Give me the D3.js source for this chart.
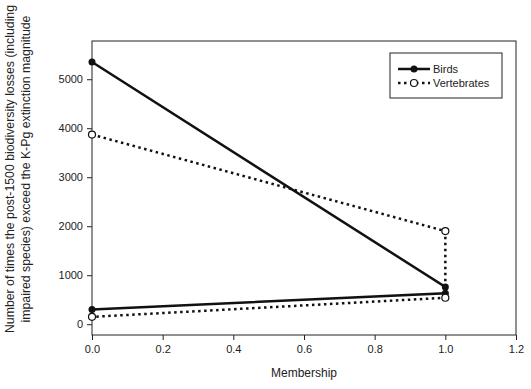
<!DOCTYPE html>
<html>
<head>
<meta charset="utf-8">
<script src="https://cdn.jsdelivr.net/npm/d3@7"></script>
<style>
  body { margin: 0; background: #fff; }
  text { font-family: "Liberation Sans", Arial, sans-serif; fill: #222; }
</style>
</head>
<body>
<svg id="chart" width="531" height="389"></svg>
<script>
// values
const xTicks = [0, 0.2, 0.4, 0.6, 0.8, 1.0, 1.2];
const yTicks = [0, 1000, 2000, 3000, 4000, 5000];
const birdsX = [0, 1, 1, 0];
const birdsY = [5350, 760, 630, 300];
const vertX = [0, 1, 1, 0];
const vertY = [3870, 1900, 540, 150];

const svg = d3.select('#chart');
const plotLeft = 92, plotRight = 516, plotTop = 41, plotBottom = 335;

const x = d3.scaleLinear().domain([0, 1.2]).range([plotLeft, plotRight]);
const y = d3.scaleLinear().domain([-220, 5780]).range([plotBottom, plotTop]);

// frame
svg.append('rect')
    .attr('x', plotLeft).attr('y', plotTop)
    .attr('width', plotRight - plotLeft).attr('height', plotBottom - plotTop)
    .attr('fill', 'none').attr('stroke', '#222').attr('stroke-width', 1);

const xAxis = svg.append('g')
    .attr('transform', `translate(0,${plotBottom})`)
    .call(d3.axisBottom(x).tickValues(xTicks).tickFormat(d3.format('.1f')).tickSize(5).tickPadding(5));
const yAxis = svg.append('g')
    .attr('transform', `translate(${plotLeft},0)`)
    .call(d3.axisLeft(y).tickValues(yTicks).tickFormat(d3.format('d')).tickSize(5).tickPadding(4));
[xAxis, yAxis].forEach((g) => {
    g.select('.domain').remove();
    g.selectAll('line').attr('stroke', '#222');
    g.selectAll('text').style('font-size', '11px').attr('fill', '#222');
});

svg.append('text')
    .attr('x', (plotLeft + plotRight) / 2).attr('y', 377)
    .attr('text-anchor', 'middle')
    .style('font-size', '12px')
    .text('Membership');

const yLab = svg.append('text')
    .attr('transform', `translate(0,169) rotate(-90)`)
    .attr('text-anchor', 'middle')
    .style('font-size', '12.3px');
yLab.append('tspan').attr('x', 0).attr('y', 14)
    .text('Number of times the post-1500 biodiversity losses (including');
yLab.append('tspan').attr('x', 0).attr('y', 30)
    .text('impaired species) exceed the K-Pg extinction magnitude');

const line = d3.line().x((d) => x(d[0])).y((d) => y(d[1]));
const birds = birdsX.map((v, i) => [v, birdsY[i]]);
const verts = vertX.map((v, i) => [v, vertY[i]]);

svg.append('path')
    .attr('d', line(verts))
    .attr('fill', 'none').attr('stroke', '#111')
    .attr('stroke-width', 2.5).attr('stroke-dasharray', '2.5,3.5');
svg.append('path')
    .attr('d', line(birds))
    .attr('fill', 'none').attr('stroke', '#111').attr('stroke-width', 2.5);

svg.selectAll('circle.birds')
    .data(birds).enter().append('circle')
    .attr('cx', (d) => x(d[0])).attr('cy', (d) => y(d[1]))
    .attr('r', 3.5).attr('fill', '#111');
svg.selectAll('circle.verts')
    .data(verts).enter().append('circle')
    .attr('cx', (d) => x(d[0])).attr('cy', (d) => y(d[1]))
    .attr('r', 3.5).attr('fill', '#fff').attr('stroke', '#111').attr('stroke-width', 1.2);

// legend
const lg = svg.append('g');
lg.append('rect')
    .attr('x', 390).attr('y', 53).attr('width', 112).attr('height', 45)
    .attr('fill', '#fff').attr('stroke', '#222');
lg.append('line').attr('x1', 398).attr('x2', 430).attr('y1', 69).attr('y2', 69)
    .attr('stroke', '#111').attr('stroke-width', 2.5);
lg.append('circle').attr('cx', 414).attr('cy', 69).attr('r', 3.5).attr('fill', '#111');
lg.append('line').attr('x1', 398).attr('x2', 430).attr('y1', 83).attr('y2', 83)
    .attr('stroke', '#111').attr('stroke-width', 2.5).attr('stroke-dasharray', '2.5,3.5');
lg.append('circle').attr('cx', 414).attr('cy', 83).attr('r', 3.5)
    .attr('fill', '#fff').attr('stroke', '#111').attr('stroke-width', 1.2);
lg.append('text').attr('x', 433).attr('y', 73).style('font-size', '11px').text('Birds');
lg.append('text').attr('x', 433).attr('y', 87).style('font-size', '11px').text('Vertebrates');
</script>
</body>
</html>
